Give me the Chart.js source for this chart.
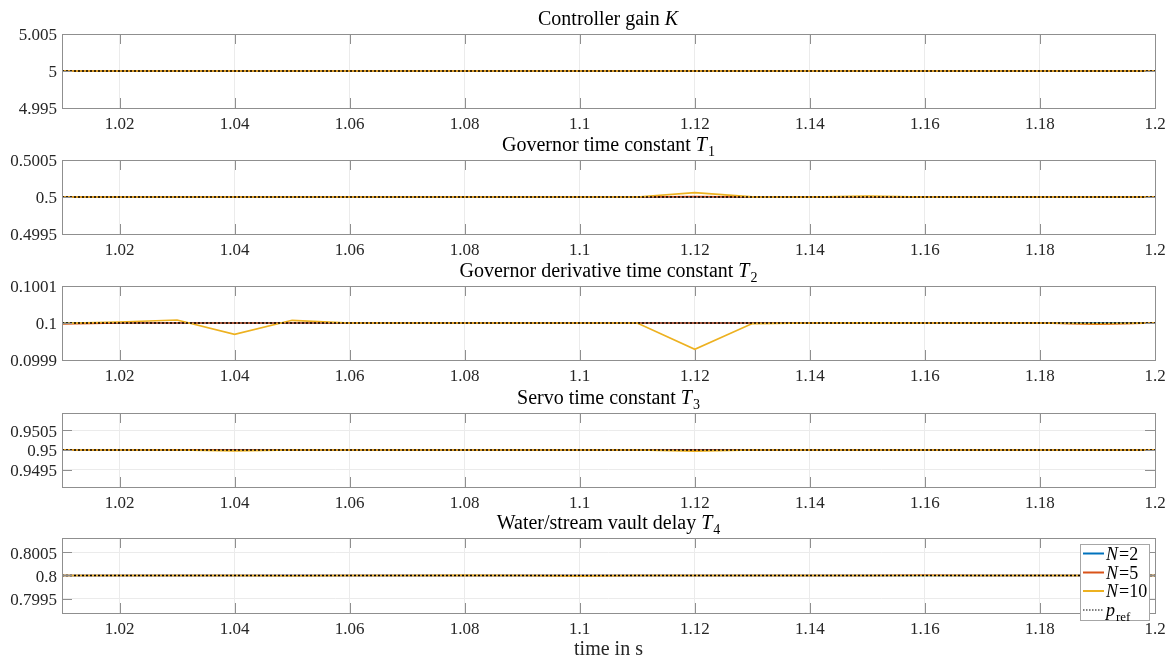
<!DOCTYPE html>
<html>
<head>
<meta charset="utf-8">
<script src="https://cdn.jsdelivr.net/npm/chart.js@4.4.1/dist/chart.umd.min.js"></script>
<style>
  html, body { margin: 0; padding: 0; background: #ffffff; }
  #wrap { position: relative; width: 1170px; height: 660px; overflow: hidden; }
  #wrap canvas { position: absolute; left: 0; }
</style>
</head>
<body>
<div id="wrap"></div>
<script>
// ---- sample times (s) ----
const TIME = [1.01, 1.02, 1.03, 1.04, 1.05, 1.06, 1.07, 1.08, 1.09, 1.10,
              1.11, 1.12, 1.13, 1.14, 1.15, 1.16, 1.17, 1.18, 1.19, 1.20];
const X_TICKS = [1.02, 1.04, 1.06, 1.08, 1.1, 1.12, 1.14, 1.16, 1.18, 1.2];
const X_RANGE = [1.01, 1.2];

// ---- controller gain K ----
const K_REF = [5, 5, 5, 5, 5, 5, 5, 5, 5, 5, 5, 5, 5, 5, 5, 5, 5, 5, 5, 5];
const K_N2  = [5, 5, 5, 5, 5, 5, 5, 5, 5, 5, 5, 5, 5, 5, 5, 5, 5, 5, 5, 5];
const K_N5  = [5, 5, 5, 5, 5, 5, 5, 5, 5, 5, 5, 5, 5, 5, 5, 5, 5, 5, 5, 5];
const K_N10 = [5, 5, 5, 5, 5, 5, 5, 5, 5, 5, 5, 5, 5, 5, 5, 5, 5, 5, 5, 5];
const K_TICKS = [4.995, 5, 5.005];
const K_RANGE = [4.995, 5.005];

// ---- governor time constant T1 ----
const T1_REF = [0.5, 0.5, 0.5, 0.5, 0.5, 0.5, 0.5, 0.5, 0.5, 0.5, 0.5, 0.5, 0.5, 0.5, 0.5, 0.5, 0.5, 0.5, 0.5, 0.5];
const T1_N2  = [0.5, 0.5, 0.5, 0.5, 0.5, 0.5, 0.5, 0.5, 0.5, 0.5, 0.5, 0.5, 0.5, 0.5, 0.5, 0.5, 0.5, 0.5, 0.5, 0.5];
const T1_N5  = [0.5, 0.5, 0.5, 0.5, 0.5, 0.5, 0.5, 0.5, 0.5, 0.5, 0.5, 0.500004, 0.5, 0.5, 0.500001, 0.5, 0.5, 0.5, 0.5, 0.5];
const T1_N10 = [0.5, 0.5, 0.5, 0.5, 0.5, 0.5, 0.5, 0.5, 0.5, 0.5, 0.5, 0.500058, 0.500002, 0.5, 0.500012, 0.5, 0.5, 0.5, 0.5, 0.5];
const T1_TICKS = [0.4995, 0.5, 0.5005];
const T1_RANGE = [0.4995, 0.5005];

// ---- governor derivative time constant T2 ----
const T2_REF = [0.1, 0.1, 0.1, 0.1, 0.1, 0.1, 0.1, 0.1, 0.1, 0.1, 0.1, 0.1, 0.1, 0.1, 0.1, 0.1, 0.1, 0.1, 0.1, 0.1];
const T2_N2  = [0.1, 0.1, 0.1, 0.1, 0.1, 0.1, 0.1, 0.1, 0.1, 0.1, 0.1, 0.1, 0.1, 0.1, 0.1, 0.1, 0.1, 0.1, 0.1, 0.1];
const T2_N5  = [0.0999975, 0.1, 0.1, 0.1, 0.1, 0.1, 0.1, 0.1, 0.1, 0.1, 0.1, 0.1, 0.1, 0.1, 0.1, 0.1, 0.1, 0.1, 0.099997, 0.1];
const T2_N10 = [0.099999, 0.1000027, 0.1000081, 0.0999695, 0.1000073, 0.1, 0.1, 0.1, 0.1, 0.1,
                0.1, 0.099929, 0.0999985, 0.1, 0.1000005, 0.1, 0.1, 0.1, 0.0999985, 0.1];
const T2_TICKS = [0.0999, 0.1, 0.1001];
const T2_RANGE = [0.0999, 0.1001];

// ---- servo time constant T3 ----
const T3_REF = [0.95, 0.95, 0.95, 0.95, 0.95, 0.95, 0.95, 0.95, 0.95, 0.95, 0.95, 0.95, 0.95, 0.95, 0.95, 0.95, 0.95, 0.95, 0.95, 0.95];
const T3_N2  = [0.95, 0.95, 0.95, 0.95, 0.95, 0.95, 0.95, 0.95, 0.95, 0.95, 0.95, 0.95, 0.95, 0.95, 0.95, 0.95, 0.95, 0.95, 0.95, 0.95];
const T3_N5  = [0.95, 0.95, 0.950005, 0.95, 0.95, 0.95, 0.95, 0.95, 0.95, 0.95, 0.95, 0.949996, 0.95, 0.95, 0.95, 0.95, 0.95, 0.95, 0.95, 0.95];
const T3_N10 = [0.95, 0.95, 0.95, 0.94998, 0.95, 0.95, 0.95, 0.95, 0.95, 0.95, 0.95, 0.94997, 0.95, 0.95, 0.95, 0.95, 0.95, 0.95, 0.95, 0.95];
const T3_TICKS = [0.9495, 0.95, 0.9505];
const T3_RANGE = [0.94906, 0.95094];

// ---- water/stream vault delay T4 ----
const T4_REF = [0.8, 0.8, 0.8, 0.8, 0.8, 0.8, 0.8, 0.8, 0.8, 0.8, 0.8, 0.8, 0.8, 0.8, 0.8, 0.8, 0.8, 0.8, 0.8, 0.8];
const T4_N2  = [0.8, 0.8, 0.8, 0.8, 0.8, 0.8, 0.8, 0.8, 0.8, 0.8, 0.8, 0.8, 0.8, 0.8, 0.8, 0.8, 0.8, 0.8, 0.8, 0.8];
const T4_N5  = [0.8, 0.8, 0.8, 0.8, 0.8, 0.8, 0.8, 0.8, 0.8, 0.799996, 0.8, 0.8, 0.8, 0.8, 0.8, 0.800005, 0.8, 0.8, 0.8, 0.8];
const T4_N10 = [0.8, 0.8, 0.8, 0.8, 0.799995, 0.8, 0.8, 0.800004, 0.8, 0.799994, 0.8, 0.8, 0.8, 0.8, 0.8, 0.8, 0.8, 0.8, 0.8, 0.8];
const T4_TICKS = [0.7995, 0.8, 0.8005];
const T4_RANGE = [0.7992, 0.8008];

// ---- series names and panel titles ----
const SERIES_NAMES = [
  [{ t: 'N', i: true }, { t: '=2' }],
  [{ t: 'N', i: true }, { t: '=5' }],
  [{ t: 'N', i: true }, { t: '=10' }],
  [{ t: 'p', i: true }, { t: 'ref', sub: true }]
];
const PANEL_TITLES = [
  [{ t: 'Controller gain ' }, { t: 'K', i: true }],
  [{ t: 'Governor time constant ' }, { t: 'T', i: true }, { t: '1', sub: true }],
  [{ t: 'Governor derivative time constant ' }, { t: 'T', i: true }, { t: '2', sub: true }],
  [{ t: 'Servo time constant ' }, { t: 'T', i: true }, { t: '3', sub: true }],
  [{ t: 'Water/stream vault delay ' }, { t: 'T', i: true }, { t: '4', sub: true }]
];
const X_LABEL = 'time in s';

// ---- look ----
const FONT = "'Liberation Serif', 'Times New Roman', serif";
const COLORS = ['#0072BD', '#D95319', '#EDB120', '#000000'];
const TEXT = '#262626';
const FRAME = '#8f8f8f';
const GRID = '#ebebeb';

// top: canvas offset on the page, h: canvas height, xh: height of the x-axis band below the plot
const PANELS = [
  { series: [K_N2, K_N5, K_N10, K_REF],     ticks: K_TICKS,  range: K_RANGE,  top: 0,   h: 148, xh: 40 },
  { series: [T1_N2, T1_N5, T1_N10, T1_REF], ticks: T1_TICKS, range: T1_RANGE, top: 126, h: 148, xh: 40 },
  { series: [T2_N2, T2_N5, T2_N10, T2_REF], ticks: T2_TICKS, range: T2_RANGE, top: 252, h: 148, xh: 40 },
  { series: [T3_N2, T3_N5, T3_N10, T3_REF], ticks: T3_TICKS, range: T3_RANGE, top: 379, h: 148, xh: 40 },
  { series: [T4_N2, T4_N5, T4_N10, T4_REF], ticks: T4_TICKS, range: T4_RANGE, top: 504, h: 156, xh: 47, legend: true, xlabel: true }
];

// draw a run of text pieces (roman / italic / subscript) starting at x
function pieceFont(p, size) {
  const s = p.sub ? Math.round(size * 0.7) : size;
  return (p.i ? 'italic ' : '') + s + 'px ' + FONT;
}
function measurePieces(ctx, pieces, size) {
  let w = 0;
  pieces.forEach(p => { ctx.font = pieceFont(p, size); w += ctx.measureText(p.t).width + (p.i ? 1 : 0); });
  return w;
}
function drawPieces(ctx, pieces, x, y, size) {
  ctx.textAlign = 'left';
  ctx.textBaseline = 'alphabetic';
  pieces.forEach(p => {
    ctx.font = pieceFont(p, size);
    ctx.fillText(p.t, x, p.sub ? y + size * 0.25 : y);
    x += ctx.measureText(p.t).width + (p.i ? 1 : 0);
  });
}

const framePlugin = {
  id: 'frame',
  afterDatasetsDraw(chart, args, opts) {
    const { ctx, chartArea: a } = chart;
    const xs = chart.scales.x, ys = chart.scales.y;
    const TL = 10;
    ctx.save();
    ctx.strokeStyle = FRAME;
    ctx.lineWidth = 1;
    ctx.beginPath();
    X_TICKS.forEach(v => {
      const px = Math.round(xs.getPixelForValue(v)) + 0.5;
      ctx.moveTo(px, a.bottom); ctx.lineTo(px, a.bottom - TL);
      ctx.moveTo(px, a.top); ctx.lineTo(px, a.top + TL);
    });
    opts.yTicks.forEach(v => {
      const py = Math.round(ys.getPixelForValue(v)) + 0.5;
      ctx.moveTo(a.left, py); ctx.lineTo(a.left + TL, py);
      ctx.moveTo(a.right, py); ctx.lineTo(a.right - TL, py);
    });
    ctx.stroke();
    ctx.strokeRect(Math.round(a.left) + 0.5, Math.round(a.top) + 0.5,
                   Math.round(a.right - a.left), Math.round(a.bottom - a.top));
    ctx.restore();
  },
  afterDraw(chart, args, opts) {
    const { ctx, chartArea: a } = chart;
    ctx.save();
    ctx.fillStyle = '#000000';
    const size = 20;
    const w = measurePieces(ctx, opts.title, size);
    drawPieces(ctx, opts.title, (a.left + a.right) / 2 - w / 2, a.top - 9, size);

    if (opts.legend) {
      const L = a.right - 75, R = a.right - 6, T = a.bottom - 69, B = a.bottom + 7;
      ctx.fillStyle = '#ffffff';
      ctx.fillRect(L, T, R - L, B - T);
      ctx.strokeStyle = '#a6a6a6';
      ctx.lineWidth = 1;
      ctx.strokeRect(Math.round(L) + 0.5, Math.round(T) + 0.5, Math.round(R - L), Math.round(B - T));
      const rows = [9.5, 28.5, 47, 66];
      SERIES_NAMES.forEach((name, k) => {
        const cy = T + rows[k];
        ctx.strokeStyle = COLORS[k];
        ctx.lineWidth = k === 3 ? 1.2 : 2;
        ctx.setLineDash(k === 3 ? [1.5, 1.5] : []);
        ctx.beginPath();
        ctx.moveTo(L + 3, cy); ctx.lineTo(L + 24, cy);
        ctx.stroke();
        ctx.setLineDash([]);
        ctx.fillStyle = '#000000';
        drawPieces(ctx, name, L + 26, cy + 6, 18);
      });
    }
    ctx.restore();
  }
};

const wrap = document.getElementById('wrap');
PANELS.forEach((p, idx) => {
  const canvas = document.createElement('canvas');
  canvas.width = 1170;
  canvas.height = p.h;
  canvas.style.top = p.top + 'px';
  canvas.style.width = '1170px';
  canvas.style.height = p.h + 'px';
  wrap.appendChild(canvas);

  const styles = [
    { width: 1.7, dash: [], order: 3 },
    { width: 1.7, dash: [], order: 2 },
    { width: 1.7, dash: [], order: 1 },
    { width: 1.3, dash: [2, 2], order: 0 }
  ];
  const datasets = p.series.map((vals, k) => ({
    label: SERIES_NAMES[k].map(s => s.t).join(''),
    data: TIME.map((t, i) => ({ x: t, y: vals[i] })),
    borderColor: COLORS[k],
    backgroundColor: COLORS[k],
    borderWidth: styles[k].width,
    borderDash: styles[k].dash,
    order: styles[k].order,
    pointRadius: 0,
    tension: 0,
    fill: false
  }));

  new Chart(canvas, {
    type: 'line',
    data: { datasets },
    plugins: [framePlugin],
    options: {
      responsive: false,
      animation: false,
      devicePixelRatio: 1,
      layout: { padding: { left: 0, right: 15, top: 34, bottom: 0 } },
      plugins: {
        legend: { display: false },
        tooltip: { enabled: false },
        title: { display: false },
        frame: { title: PANEL_TITLES[idx], yTicks: p.ticks, legend: !!p.legend }
      },
      scales: {
        x: {
          type: 'linear',
          min: X_RANGE[0],
          max: X_RANGE[1],
          afterBuildTicks: s => { s.ticks = X_TICKS.map(v => ({ value: v })); },
          afterFit: s => { s.height = p.xh; s.paddingLeft = 0; s.paddingRight = 0; },
          ticks: {
            autoSkip: false, maxRotation: 0, padding: 6, color: TEXT,
            font: { family: FONT, size: 17 },
            callback: v => String(v)
          },
          grid: { color: GRID, drawTicks: false, lineWidth: 1 },
          border: { display: false },
          title: {
            display: !!p.xlabel, text: X_LABEL, color: TEXT,
            font: { family: FONT, size: 20 }, padding: { top: 0, bottom: -2 }
          }
        },
        y: {
          type: 'linear',
          min: p.range[0],
          max: p.range[1],
          afterBuildTicks: s => { s.ticks = p.ticks.map(v => ({ value: v })); },
          afterFit: s => { s.width = 62; },
          ticks: {
            padding: 5, color: TEXT, labelOffset: 2,
            font: { family: FONT, size: 17 },
            callback: v => String(v)
          },
          grid: { color: GRID, drawTicks: false, lineWidth: 1 },
          border: { display: false }
        }
      }
    }
  });
});
</script>
</body>
</html>
